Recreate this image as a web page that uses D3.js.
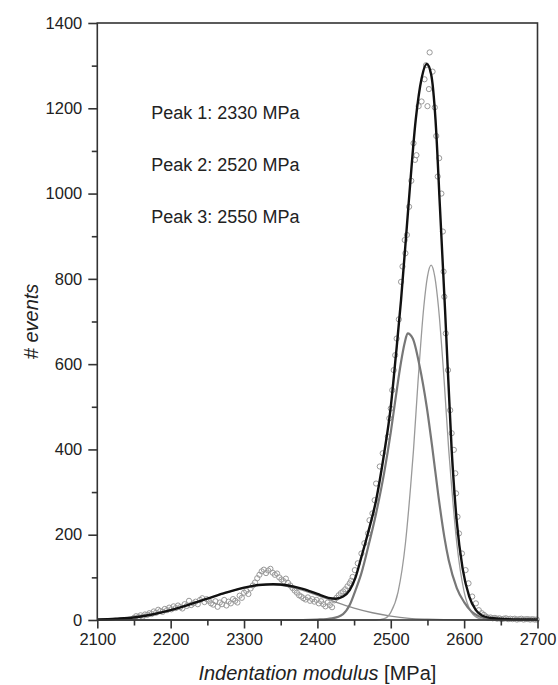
<!DOCTYPE html>
<html>
<head>
<meta charset="utf-8">
<script src="https://cdn.jsdelivr.net/npm/d3@7"></script>
<style>
  body { margin: 0; background: #fff; }
  svg { font-family: "Liberation Sans", Arial, sans-serif; }
</style>
</head>
<body>
<div id="chart"></div>
<script>
// measured events (open circles)
var eventModulus = [
  2150, 2153, 2156, 2159, 2162, 2165, 2168, 2171, 2174, 2177, 2180, 2183, 2186, 2189, 2192, 2195, 2198,
  2201, 2204, 2207, 2210, 2213, 2216, 2219, 2222, 2225, 2228, 2231, 2234, 2237, 2240, 2243, 2246, 2249,
  2252, 2255, 2258, 2261, 2264, 2267, 2270, 2273, 2276, 2279, 2282, 2285, 2288, 2291, 2294, 2297, 2300,
  2303, 2306, 2309, 2312, 2315, 2318, 2321, 2324, 2327, 2330, 2333, 2336, 2339, 2342, 2345, 2348, 2351,
  2354, 2357, 2360, 2363, 2366, 2369, 2372, 2375, 2378, 2381, 2384, 2387, 2390, 2393, 2396, 2399, 2402,
  2405, 2408, 2411, 2414, 2417, 2420, 2423, 2426, 2429, 2432, 2435, 2438, 2441, 2444, 2446, 2448, 2451,
  2455, 2460, 2464, 2469, 2471, 2475, 2478, 2480, 2485, 2489, 2496, 2498, 2500, 2502, 2504, 2506, 2508,
  2511, 2514, 2516, 2519, 2520, 2522, 2525, 2528, 2531, 2533, 2535, 2538, 2542, 2546, 2548, 2550, 2552,
  2553, 2557, 2560, 2562, 2564, 2566, 2569, 2571, 2572, 2573, 2575, 2578, 2581, 2583, 2586, 2588, 2589,
  2591, 2593, 2597, 2602, 2606, 2611, 2616, 2620, 2624, 2627, 2630, 2633, 2636, 2639, 2642, 2645, 2648,
  2651, 2654, 2657, 2660, 2663, 2666, 2669, 2672, 2675, 2678, 2681, 2684, 2687, 2690, 2693, 2696, 2699
];
var eventCount = [
  5, 9, 7, 11, 8, 13, 12, 16, 14, 20, 17, 24, 21, 19, 26, 23, 29,
  25, 32, 28, 34, 30, 27, 37, 33, 45, 35, 39, 43, 37, 47, 51, 42, 49,
  45, 39, 36, 44, 31, 41, 37, 47, 34, 43, 39, 49, 45, 41, 57, 52, 64,
  68, 61, 74, 81, 88, 98, 106, 114, 118, 110, 116, 120, 111, 106, 109, 100, 95,
  91, 97, 87, 81, 75, 69, 64, 58, 55, 51, 48, 53, 45, 49, 43, 47, 39,
  44, 37, 32, 41, 35, 30, 46, 52, 58, 63, 67, 72, 79, 86, 92, 101, 117,
  133, 156, 180, 203, 234, 250, 281, 320, 360, 391, 430, 473, 496, 539, 586, 621, 660,
  705, 793, 829, 891, 860, 903, 969, 1030, 1118, 1079, 1090, 1205, 1216, 1268, 1301, 1205, 1245,
  1331, 1286, 1202, 1135, 1040, 1083, 1000, 911, 817, 758, 672, 586, 492, 438, 399, 344, 297,
  242, 203, 156, 117, 86, 55, 39, 23, 16, 12, 8, 5, 6, 4, 5, 3, 4,
  2, 3, 4, 2, 3, 2, 3, 1, 2, 3, 1, 2, 2, 1, 2, 1, 1
];

// cumulative fit (black)
var fitModulus = [2100, 2125, 2150, 2175, 2200, 2225, 2250, 2275, 2300, 2320, 2340, 2360, 2380, 2400,
  2415, 2425, 2435, 2444, 2452, 2460, 2469, 2480, 2491, 2500, 2507, 2514, 2524, 2534, 2542, 2549,
  2555, 2561, 2567, 2574, 2583, 2590, 2598, 2607, 2616, 2625, 2640, 2660, 2700];
var fitCount = [1, 3, 6, 13, 23, 36, 50, 64, 76, 82, 84, 81, 73, 61,
  52, 50, 55, 70, 100, 148, 204, 281, 391, 500, 621, 750, 969, 1173, 1270, 1304,
  1280, 1173, 969, 727, 399, 230, 120, 55, 23, 10, 4, 2, 1];

// peak 1 component
var peak1Modulus = [2100, 2150, 2200, 2250, 2300, 2320, 2335, 2350, 2375, 2400, 2425, 2450, 2475,
  2500, 2525, 2550, 2600, 2700];
var peak1Count = [1, 7, 23, 50, 75, 81, 83, 81, 72, 58, 42, 28, 17, 9, 4, 2, 0.5, 0];

// peak 2 component
var peak2Modulus = [2100, 2380, 2400, 2420, 2435, 2444, 2452, 2460, 2469, 2480, 2491, 2500, 2507,
  2514, 2519, 2523, 2530, 2539, 2549, 2557, 2565, 2573, 2579, 2590, 2600, 2610, 2620, 2635, 2660, 2700];
var peak2Count = [0, 0, 1, 4, 14, 35, 70, 110, 170, 250, 345, 440, 525,
  605, 650, 672, 660, 598, 500, 399, 290, 195, 140, 75, 42, 20, 9, 3, 1, 0];

// peak 3 component
var peak3Modulus = [2100, 2480, 2491, 2500, 2510, 2520, 2527, 2531, 2537, 2545, 2550, 2555, 2560,
  2565, 2573, 2579, 2583, 2590, 2600, 2610, 2620, 2630, 2650, 2700];
var peak3Count = [0, 0, 3, 18, 66, 180, 312, 399, 555, 734, 805, 832, 805,
  734, 555, 399, 312, 180, 66, 18, 4, 1, 0, 0];

var peakLabels = ["Peak 1: 2330 MPa", "Peak 2: 2520 MPa", "Peak 3: 2550 MPa"];

var xTicks = [2100, 2200, 2300, 2400, 2500, 2600, 2700];
var xMinorTicks = [2150, 2250, 2350, 2450, 2550, 2650];
var yTicks = [0, 200, 400, 600, 800, 1000, 1200, 1400];
var yMinorTicks = [100, 300, 500, 700, 900, 1100, 1300];

var width = 558, height = 685;
var margin = {left: 97.3, right: 20.5, top: 23, bottom: 65};

var svg = d3.select("#chart").append("svg")
    .attr("width", width)
    .attr("height", height);

var x = d3.scaleLinear()
    .domain([2100, 2700])
    .range([margin.left, width - margin.right]);

var y = d3.scaleLinear()
    .domain([0, 1400])
    .range([height - margin.bottom, margin.top]);

function zip(xs, ys) {
  return xs.map(function(v, i) { return [v, ys[i]]; });
}

var line = d3.line()
    .x(function(d) { return x(d[0]); })
    .y(function(d) { return y(d[1]); })
    .curve(d3.curveMonotoneX);

// events
svg.append("g")
    .attr("class", "events")
  .selectAll("circle")
    .data(zip(eventModulus, eventCount))
  .enter().append("circle")
    .attr("cx", function(d) { return x(d[0]); })
    .attr("cy", function(d) { return y(d[1]); })
    .attr("r", 2.6)
    .style("fill", "none")
    .style("stroke", "#999")
    .style("stroke-width", 1);

// components
svg.append("path")
    .datum(zip(peak1Modulus, peak1Count))
    .attr("d", line)
    .style("fill", "none")
    .style("stroke", "#8c8c8c")
    .style("stroke-width", 1.3);

svg.append("path")
    .datum(zip(peak3Modulus, peak3Count))
    .attr("d", line)
    .style("fill", "none")
    .style("stroke", "#9a9a9a")
    .style("stroke-width", 1.3);

svg.append("path")
    .datum(zip(peak2Modulus, peak2Count))
    .attr("d", line)
    .style("fill", "none")
    .style("stroke", "#777")
    .style("stroke-width", 2.2);

// sum of peaks
svg.append("path")
    .datum(zip(fitModulus, fitCount))
    .attr("d", line)
    .style("fill", "none")
    .style("stroke", "#111")
    .style("stroke-width", 2.4);

// frame
svg.append("rect")
    .attr("x", x(2100))
    .attr("y", y(1400))
    .attr("width", x(2700) - x(2100))
    .attr("height", y(0) - y(1400))
    .style("fill", "none")
    .style("stroke", "#333")
    .style("stroke-width", 1.6);

// axes
function styleAxis(g) {
  g.select(".domain").remove();
  g.selectAll(".tick line").style("stroke", "#333").style("stroke-width", 1.6);
  g.selectAll(".tick text")
      .style("font-size", "16.5px")
      .style("fill", "#222")
      .style("font-family", "'Liberation Sans', Arial, sans-serif");
}

svg.append("g")
    .attr("transform", "translate(0," + y(0) + ")")
    .call(d3.axisBottom(x).tickValues(xTicks).tickSize(8.5).tickPadding(5).tickFormat(d3.format("d")))
    .call(styleAxis);

svg.append("g")
    .attr("transform", "translate(0," + y(0) + ")")
    .call(d3.axisBottom(x).tickValues(xMinorTicks).tickSize(5.5).tickFormat(""))
    .call(styleAxis);

svg.append("g")
    .attr("transform", "translate(" + x(2100) + ",0)")
    .call(d3.axisLeft(y).tickValues(yTicks).tickSize(9).tickPadding(6).tickFormat(d3.format("d")))
    .call(styleAxis);

svg.append("g")
    .attr("transform", "translate(" + x(2100) + ",0)")
    .call(d3.axisLeft(y).tickValues(yMinorTicks).tickSize(5.5).tickFormat(""))
    .call(styleAxis);

// axis titles
var xTitle = svg.append("text")
    .attr("x", (x(2100) + x(2700)) / 2)
    .attr("y", 680)
    .attr("text-anchor", "middle")
    .style("font-size", "20px")
    .style("fill", "#222");
xTitle.append("tspan").style("font-style", "italic").text("Indentation modulus");
xTitle.append("tspan").text(" [MPa]");

svg.append("text")
    .attr("transform", "translate(38," + (y(0) + y(1400)) / 2 + ") rotate(-90)")
    .attr("text-anchor", "middle")
    .style("font-size", "20px")
    .style("font-style", "italic")
    .style("fill", "#222")
    .text("# events");

// peak annotations
svg.append("g")
  .selectAll("text")
    .data(peakLabels)
  .enter().append("text")
    .attr("x", x(2100) + 54)
    .attr("y", function(d, i) { return y(1400) + 95.5 + i * 52; })
    .style("font-size", "18px")
    .style("fill", "#222")
    .text(function(d) { return d; });
</script>
</body>
</html>
